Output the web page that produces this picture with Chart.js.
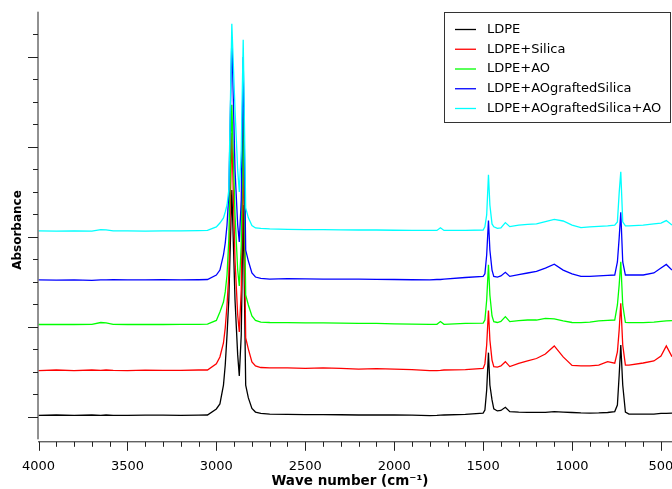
<!DOCTYPE html>
<html>
<head>
<meta charset="utf-8">
<script src="https://cdn.jsdelivr.net/npm/chart.js@4/dist/chart.umd.min.js"></script>
<style>
  html, body { margin: 0; padding: 0; background: #fff; }
  #grafico { display: block; }
</style>
</head>
<body>
<canvas id="grafico" width="672" height="489"></canvas>
<script>
const waveNumbers = [
    4000, 3900, 3800, 3700, 3650, 3620, 3580, 3500, 3400, 3300, 3200, 3100, 3050,
    3000, 2980, 2960, 2950, 2940, 2930, 2913, 2895, 2880, 2871, 2860, 2849, 2835, 2820, 2800, 2780, 2750, 2700,
    2600, 2500, 2400, 2300, 2200, 2100, 2000, 1900, 1800, 1760, 1740, 1720,
    1600, 1500, 1490, 1480, 1470, 1462, 1450, 1440, 1420, 1400, 1375, 1350,
    1300, 1250, 1200, 1150, 1100, 1050, 1000, 950, 900, 850, 800, 760,
    745, 735, 726, 715, 700, 680, 600, 540, 500, 470, 438
];

const ldpe = [
    0.106, 0.108, 0.106, 0.108, 0.106, 0.108, 0.106, 0.106, 0.107, 0.107, 0.106, 0.107, 0.108,
    0.135, 0.157, 0.241, 0.330, 0.464, 0.619, 1.108, 0.619, 0.375, 0.281, 0.464, 1.041, 0.241, 0.184, 0.137, 0.121, 0.115, 0.112,
    0.111, 0.110, 0.110, 0.109, 0.108, 0.108, 0.108, 0.107, 0.105, 0.106, 0.107, 0.108,
    0.111, 0.116, 0.130, 0.219, 0.385, 0.241, 0.175, 0.135, 0.126, 0.128, 0.142, 0.123,
    0.121, 0.120, 0.120, 0.120, 0.123, 0.121, 0.119, 0.117, 0.116, 0.117, 0.119, 0.123,
    0.152, 0.286, 0.419, 0.241, 0.121, 0.112, 0.112, 0.112, 0.115, 0.115, 0.116
];

const ldpeSilica = [
    0.305, 0.308, 0.305, 0.308, 0.306, 0.308, 0.306, 0.305, 0.307, 0.306, 0.306, 0.308, 0.308,
    0.335, 0.366, 0.428, 0.495, 0.597, 0.730, 1.361, 0.797, 0.552, 0.477, 0.664, 1.286, 0.450, 0.401, 0.344, 0.326, 0.319, 0.317,
    0.317, 0.315, 0.317, 0.315, 0.312, 0.314, 0.312, 0.310, 0.305, 0.305, 0.306, 0.308,
    0.310, 0.315, 0.335, 0.419, 0.572, 0.441, 0.352, 0.323, 0.321, 0.326, 0.345, 0.323,
    0.337, 0.348, 0.359, 0.379, 0.415, 0.366, 0.328, 0.326, 0.326, 0.330, 0.345, 0.338,
    0.388, 0.486, 0.604, 0.419, 0.330, 0.330, 0.339, 0.348, 0.370, 0.415, 0.367
];

const ldpeAO = [
    0.510, 0.511, 0.510, 0.511, 0.519, 0.517, 0.511, 0.510, 0.511, 0.510, 0.511, 0.511, 0.512,
    0.528, 0.566, 0.610, 0.655, 0.730, 0.886, 1.486, 0.997, 0.752, 0.681, 0.864, 1.464, 0.641, 0.597, 0.548, 0.528, 0.521, 0.519,
    0.518, 0.517, 0.517, 0.516, 0.515, 0.515, 0.513, 0.512, 0.511, 0.511, 0.523, 0.511,
    0.515, 0.516, 0.530, 0.619, 0.775, 0.641, 0.548, 0.523, 0.519, 0.524, 0.545, 0.523,
    0.527, 0.530, 0.530, 0.537, 0.535, 0.526, 0.519, 0.518, 0.521, 0.526, 0.528, 0.530,
    0.597, 0.686, 0.789, 0.597, 0.519, 0.518, 0.518, 0.521, 0.524, 0.526, 0.527
];

const ldpeAOgraftedSilica = [
    0.708, 0.707, 0.708, 0.706, 0.708, 0.708, 0.709, 0.708, 0.708, 0.709, 0.708, 0.709, 0.710,
    0.730, 0.752, 0.819, 0.872, 0.952, 1.086, 1.788, 1.197, 0.952, 0.877, 1.064, 1.699, 0.841, 0.792, 0.739, 0.721, 0.715, 0.712,
    0.714, 0.713, 0.712, 0.712, 0.712, 0.711, 0.710, 0.709, 0.708, 0.710, 0.710, 0.712,
    0.719, 0.724, 0.735, 0.819, 0.972, 0.841, 0.752, 0.724, 0.721, 0.726, 0.742, 0.724,
    0.732, 0.739, 0.746, 0.761, 0.778, 0.752, 0.735, 0.724, 0.724, 0.726, 0.728, 0.730,
    0.788, 0.895, 1.009, 0.788, 0.730, 0.730, 0.730, 0.739, 0.761, 0.777, 0.752
];

const ldpeAOgraftedSilicaAO = [
    0.926, 0.925, 0.926, 0.925, 0.932, 0.931, 0.926, 0.926, 0.925, 0.926, 0.926, 0.927, 0.928,
    0.944, 0.961, 0.984, 1.010, 1.041, 1.108, 1.846, 1.464, 1.197, 1.099, 1.286, 1.775, 1.028, 0.984, 0.950, 0.939, 0.937, 0.935,
    0.933, 0.932, 0.932, 0.931, 0.930, 0.930, 0.929, 0.928, 0.928, 0.928, 0.940, 0.928,
    0.928, 0.930, 0.944, 0.997, 1.175, 1.041, 0.957, 0.944, 0.937, 0.939, 0.963, 0.945,
    0.952, 0.955, 0.957, 0.967, 0.977, 0.970, 0.952, 0.941, 0.944, 0.946, 0.948, 0.952,
    0.966, 1.095, 1.189, 0.966, 0.948, 0.948, 0.952, 0.957, 0.961, 0.972, 0.952
];

const seriesNames = ['LDPE', 'LDPE+Silica', 'LDPE+AO', 'LDPE+AOgraftedSilica', 'LDPE+AOgraftedSilica+AO'];
const seriesColors = ['#000000', '#ff0000', '#00ff00', '#0000ff', '#00ffff'];
const seriesValues = [ldpe, ldpeSilica, ldpeAO, ldpeAOgraftedSilica, ldpeAOgraftedSilicaAO];

// axis marks (labels only on the x axis)
const xTickLabels = [4000, 3500, 3000, 2500, 2000, 1500, 1000, 500];
const xMinorTicks = [4000, 3900, 3800, 3700, 3600, 3500, 3400, 3300, 3200, 3100, 3000, 2900, 2800, 2700, 2600, 2500,
    2400, 2300, 2200, 2100, 2000, 1900, 1800, 1700, 1600, 1500, 1400, 1300, 1200, 1100, 1000, 900, 800, 700, 600, 500];
const yMinorTicks = [0.1, 0.2, 0.3, 0.4, 0.5, 0.6, 0.7, 0.8, 0.9, 1.0, 1.1, 1.2, 1.3, 1.4, 1.5, 1.6, 1.7, 1.8];
const yMajorTicks = [0.1, 0.5, 0.9, 1.3, 1.7];

const FONTE = "'DejaVu Sans', Verdana, sans-serif";

function pontos(valores) {
    return waveNumbers.map(function (w, i) {
        return { x: w, y: valores[i] };
    });
}

// axes lines, tick marks, titles and the boxed legend
const eixosPlugin = {
    id: 'eixos',
    afterDraw(chart) {
        const ctx = chart.ctx;
        const area = chart.chartArea;
        const xs = chart.scales.x;
        const ys = chart.scales.y;
        const eixoX = area.left - 0.5;
        const eixoY = area.bottom + 2.5;

        ctx.save();
        ctx.strokeStyle = '#222';
        ctx.lineWidth = 1;
        ctx.beginPath();
        ctx.moveTo(eixoX, area.top);
        ctx.lineTo(eixoX, area.bottom);
        ctx.moveTo(eixoX, eixoY);
        ctx.lineTo(area.right, eixoY);

        yMinorTicks.forEach(function (v) {
            const py = Math.round(ys.getPixelForValue(v)) + 0.5;
            const len = yMajorTicks.indexOf(v) >= 0 ? 10 : 5;
            ctx.moveTo(eixoX - len, py);
            ctx.lineTo(eixoX, py);
        });

        xMinorTicks.forEach(function (w) {
            const px = Math.round(xs.getPixelForValue(w)) + 0.5;
            const len = w % 500 === 0 ? 9 : 5;
            ctx.moveTo(px, eixoY);
            ctx.lineTo(px, eixoY + len);
        });
        ctx.stroke();

        // x title
        ctx.fillStyle = '#000';
        ctx.textAlign = 'center';
        ctx.textBaseline = 'middle';
        ctx.font = 'bold 13.5px ' + FONTE;
        ctx.fillText('Wave number (cm\u207B\u00B9)', 350, 481);

        // y title
        ctx.font = 'bold 12px ' + FONTE;
        ctx.translate(18, 230);
        ctx.rotate(-Math.PI / 2);
        ctx.fillText('Absorbance', 0, 0);
        ctx.restore();

        // legend
        ctx.save();
        const bx = 444.5, by = 12.5, bw = 226, bh = 110;
        ctx.fillStyle = '#fff';
        ctx.fillRect(bx, by, bw, bh);
        ctx.strokeStyle = '#333';
        ctx.lineWidth = 1;
        ctx.strokeRect(bx, by, bw, bh);
        ctx.font = '13px ' + FONTE;
        ctx.textAlign = 'left';
        ctx.textBaseline = 'middle';
        seriesNames.forEach(function (nome, i) {
            const ly = 29.5 + i * 19.75;
            ctx.strokeStyle = seriesColors[i];
            ctx.lineWidth = 1.3;
            ctx.beginPath();
            ctx.moveTo(455, ly);
            ctx.lineTo(476, ly);
            ctx.stroke();
            ctx.fillStyle = '#000';
            ctx.fillText(nome, 487, ly);
        });
        ctx.restore();
    }
};

const datasets = seriesNames.map(function (nome, i) {
    return {
        label: nome,
        data: pontos(seriesValues[i]),
        borderColor: seriesColors[i],
        borderWidth: 1.3,
        pointRadius: 0,
        tension: 0,
        order: seriesNames.length - i
    };
});

Chart.defaults.font.family = FONTE;
Chart.defaults.color = '#000';

new Chart(document.getElementById('grafico').getContext('2d'), {
    type: 'line',
    data: { datasets: datasets },
    options: {
        responsive: false,
        animation: false,
        devicePixelRatio: 1,
        layout: { padding: { left: 38.5, top: 11.7, right: 0, bottom: 0 } },
        plugins: {
            legend: { display: false },
            tooltip: { enabled: false }
        },
        scales: {
            x: {
                type: 'linear',
                reverse: true,
                min: 438,
                max: 4000,
                grid: { display: false, drawTicks: true, tickLength: 9 },
                border: { display: false },
                ticks: {
                    autoSkip: false,
                    maxRotation: 0,
                    padding: 11,
                    font: { size: 13 },
                    callback: function (v) {
                        return String(v);
                    }
                },
                afterBuildTicks: function (scale) {
                    scale.ticks = xTickLabels.map(function (v) {
                        return { value: v };
                    });
                },
                afterFit: function (scale) {
                    scale.height = 49.7;
                    scale.paddingLeft = 0;
                    scale.paddingRight = 0;
                }
            },
            y: {
                display: false,
                min: 0,
                max: 1.9
            }
        }
    },
    plugins: [eixosPlugin]
});
</script>
</body>
</html>
